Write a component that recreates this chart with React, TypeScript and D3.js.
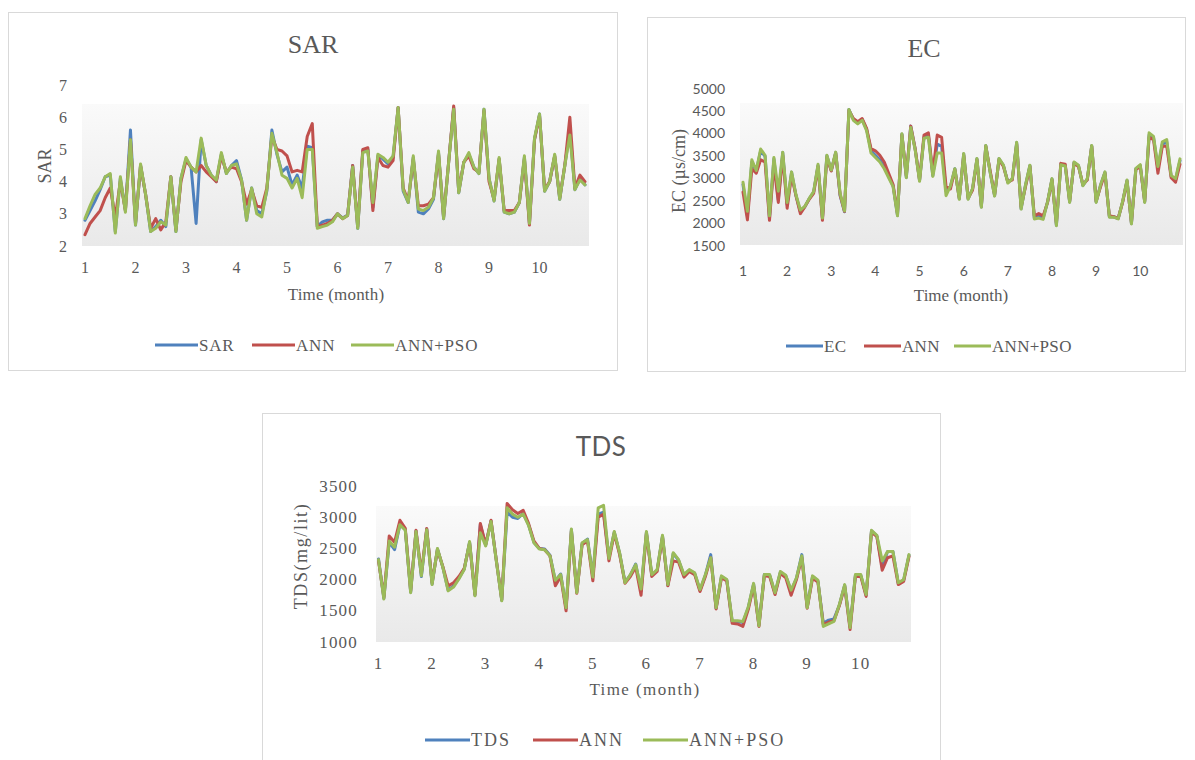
import React from 'react';
import * as d3 from 'd3';

// ---------- data ----------
const monthTicks = [1, 2, 3, 4, 5, 6, 7, 8, 9, 10];
const seriesNames = ['ANN', 'ANN+PSO'];

const sarTicks = [2, 3, 4, 5, 6, 7];
const sarActual = [
  2.8, 3.1, 3.4, 3.75, 4.15, 4.2, 2.45, 4.1, 3.1, 5.6,
  2.65, 4.5, 3.6, 2.45, 2.6, 2.8, 2.6, 4.15, 2.45, 4.1,
  4.7, 4.45, 2.7, 5.3, 4.5, 4.2, 4.0, 4.85, 4.25, 4.5,
  4.65, 4.05, 2.8, 3.8, 3.1, 3.0, 3.7, 5.6, 4.85, 4.3,
  4.45, 3.9, 4.2, 3.8, 5.1, 5.05, 2.6, 2.75, 2.8, 2.8,
  3.0, 2.87, 2.96, 4.5, 2.55, 4.95, 5.0, 3.2, 4.8, 4.7,
  4.55, 4.75, 6.3, 3.7, 3.35, 4.75, 3.05, 3.0, 3.15, 3.45,
  4.9, 2.85, 4.6, 6.3, 3.65, 4.6, 4.85, 4.45, 4.25, 6.25,
  4.1, 3.4, 4.7, 3.05, 3.0, 3.05, 3.35, 4.75, 2.7, 5.3,
  6.1, 3.7, 4.0, 4.8, 3.45, 4.5, 5.6, 3.75, 4.1, 3.9,
];
const sarANN = [
  2.35, 2.7, 2.9, 3.1, 3.5, 3.8, 2.9, 4.0, 3.1, 5.3,
  2.7, 4.5, 3.6, 2.55, 2.85, 2.5, 2.75, 4.15, 2.5, 4.0,
  4.65, 4.45, 4.3, 4.5, 4.3, 4.15, 4.0, 4.8, 4.3, 4.45,
  4.4, 4.0, 3.3, 3.75, 3.25, 3.2, 3.8, 5.4, 5.0, 4.95,
  4.8, 4.3, 4.35, 4.3, 5.4, 5.8, 2.6, 2.65, 2.7, 2.8,
  3.0, 2.85, 2.95, 4.5, 2.6, 5.0, 5.05, 3.1, 4.75, 4.5,
  4.45, 4.65, 6.3, 3.8, 3.4, 4.7, 3.25, 3.25, 3.3, 3.5,
  4.85, 2.9, 4.6, 6.35, 3.7, 4.6, 4.8, 4.4, 4.3, 6.2,
  4.0, 3.45, 4.7, 3.1, 3.1, 3.1, 3.35, 4.7, 2.65, 5.3,
  6.05, 3.75, 4.0, 4.8, 3.5, 4.5, 6.0, 3.8, 4.2, 4.0,
];
const sarPSO = [
  2.85, 3.25, 3.6, 3.8, 4.15, 4.25, 2.4, 4.15, 3.05, 5.3,
  2.65, 4.55, 3.6, 2.45, 2.55, 2.75, 2.65, 4.15, 2.45, 4.1,
  4.75, 4.45, 4.3, 5.35, 4.5, 4.2, 4.05, 4.9, 4.25, 4.5,
  4.55, 4.05, 2.8, 3.8, 3.0, 2.9, 3.75, 5.5, 4.9, 4.2,
  4.1, 3.8, 4.1, 3.5, 5.0, 5.0, 2.55, 2.6, 2.65, 2.75,
  3.0, 2.85, 2.95, 4.45, 2.55, 4.9, 4.95, 3.35, 4.85, 4.75,
  4.6, 4.8, 6.3, 3.75, 3.35, 4.8, 3.15, 3.1, 3.2, 3.5,
  4.95, 2.85, 4.6, 6.25, 3.65, 4.6, 4.9, 4.45, 4.25, 6.25,
  4.1, 3.4, 4.75, 3.05, 3.0, 3.05, 3.35, 4.8, 2.7, 5.35,
  6.1, 3.7, 4.0, 4.85, 3.45, 4.5, 5.45, 3.75, 4.05, 3.9,
];

const ecTicks = [1500, 2000, 2500, 3000, 3500, 4000, 4500, 5000];
const ecActual = [
  2850, 2150, 3350, 3150, 3600, 3480, 2100, 3420, 2500, 3560,
  2400, 3120, 2600, 2240, 2350, 2530, 2680, 3270, 2100, 3490,
  3160, 3560, 2600, 2240, 4520, 4300, 4230, 4300, 4080, 3600,
  3500, 3400, 3250, 3030, 2820, 2160, 3970, 3010, 4150, 3640,
  2940, 3900, 3950, 3050, 3750, 3700, 2700, 2800, 3200, 2530,
  3530, 2530, 2750, 3420, 2350, 3710, 3120, 2600, 3420, 3270,
  2900, 2970, 3780, 2310, 2830, 3270, 2100, 2150, 2100, 2460,
  2970, 1940, 3300, 3270, 2460, 3340, 3270, 2830, 2970, 3710,
  2460, 2830, 3120, 2130, 2130, 2090, 2460, 2940, 1980, 3200,
  3270, 2460, 3950, 3900, 3200, 3750, 3800, 3030, 2950, 3380,
];
const ecANN = [
  2680, 2060, 3200, 3100, 3400, 3350, 2050, 3300, 2450, 3500,
  2320, 3050, 2600, 2200, 2350, 2520, 2650, 3250, 2050, 3450,
  3150, 3550, 2620, 2250, 4500, 4320, 4250, 4320, 4100, 3650,
  3600, 3500, 3350, 3100, 2850, 2200, 3950, 3050, 4150, 3650,
  2950, 3950, 4000, 3100, 3950, 3900, 2800, 2750, 3180, 2550,
  3500, 2550, 2720, 3400, 2380, 3700, 3150, 2620, 3400, 3250,
  2900, 2950, 3750, 2350, 2800, 3250, 2150, 2200, 2150, 2450,
  2950, 1980, 3320, 3300, 2480, 3320, 3250, 2850, 2950, 3700,
  2480, 2800, 3100, 2150, 2130, 2100, 2450, 2920, 2000, 3180,
  3250, 2480, 3900, 3850, 3100, 3700, 3700, 3000, 2900, 3300,
];
const ecPSO = [
  2900, 2250, 3400, 3160, 3640, 3500, 2150, 3450, 2700, 3570,
  2450, 3130, 2620, 2280, 2360, 2540, 2690, 3300, 2100, 3500,
  3170, 3570, 2650, 2260, 4520, 4280, 4200, 4280, 4050, 3550,
  3450, 3350, 3200, 3000, 2800, 2150, 3980, 3000, 4120, 3620,
  2920, 3880, 3900, 3030, 3550, 3550, 2600, 2820, 3200, 2520,
  3540, 2520, 2760, 3430, 2340, 3720, 3110, 2590, 3430, 3280,
  2880, 2980, 3790, 2300, 2840, 3280, 2080, 2100, 2070, 2470,
  2980, 1930, 3290, 3260, 2450, 3350, 3280, 2820, 2980, 3720,
  2450, 2840, 3130, 2120, 2120, 2080, 2470, 2950, 1970, 3210,
  3290, 2450, 4000, 3920, 3250, 3800, 3850, 3050, 2980, 3420,
];

const tdsTicks = [1000, 1500, 2000, 2500, 3000, 3500];
const tdsActual = [
  2330, 1700, 2600, 2480, 2880, 2800, 1800, 2780, 2050, 2810,
  1930, 2490, 2200, 1830, 1900, 2020, 2170, 2600, 1750, 2880,
  2550, 2940, 2300, 1670, 3080, 3000, 2980, 3060, 2880, 2600,
  2500, 2490, 2390, 1980, 2090, 1540, 2800, 1800, 2580, 2650,
  2050, 3050, 3080, 2350, 2760, 2420, 1960, 2070, 2250, 1820,
  2760, 2070, 2150, 2700, 1910, 2420, 2310, 2070, 2150, 2100,
  1830, 2070, 2400, 1540, 2050, 1990, 1330, 1330, 1310, 1550,
  1930, 1270, 2080, 2070, 1780, 2120, 2060, 1820, 2020, 2400,
  1560, 2050, 1980, 1300, 1350, 1370, 1590, 1910, 1240, 2070,
  2070, 1750, 2780, 2700, 2200, 2450, 2450, 1940, 1990, 2390,
];
const tdsANN = [
  2300, 1720, 2700, 2600, 2950, 2820, 1820, 2790, 2100, 2820,
  1950, 2480, 2210, 1900, 1950, 2050, 2180, 2580, 1760, 2900,
  2560, 2950, 2300, 1680, 3220, 3120, 3060, 3110, 2900, 2620,
  2500, 2480, 2380, 1900, 2050, 1500, 2780, 1780, 2560, 2620,
  1980, 3000, 3050, 2300, 2740, 2400, 1940, 2050, 2200, 1750,
  2740, 2050, 2130, 2680, 1900, 2300, 2280, 2040, 2130, 2080,
  1810, 2050, 2350, 1530, 2030, 1980, 1300, 1290, 1250, 1520,
  1900, 1250, 2060, 2050, 1760, 2100, 2030, 1750, 2000, 2350,
  1540, 2020, 1960, 1280, 1320, 1340, 1580, 1890, 1200, 2050,
  2050, 1730, 2760, 2690, 2150, 2350, 2380, 1920, 1970, 2370,
];
const tdsPSO = [
  2320, 1690, 2620, 2520, 2880, 2790, 1790, 2770, 2060, 2800,
  1920, 2500, 2200, 1820, 1880, 2010, 2160, 2610, 1740, 2750,
  2540, 2930, 2290, 1660, 3150, 3050, 3000, 3050, 2870, 2590,
  2490, 2480, 2380, 1990, 2080, 1550, 2810, 1790, 2590, 2640,
  2040, 3150, 3190, 2340, 2770, 2430, 1950, 2080, 2240, 1850,
  2770, 2080, 2160, 2710, 1920, 2430, 2320, 2080, 2160, 2110,
  1840, 2080, 2350, 1550, 2060, 2000, 1340, 1340, 1330, 1560,
  1940, 1260, 2080, 2080, 1790, 2130, 2070, 1830, 2030, 2380,
  1550, 2060, 1990, 1250, 1290, 1330, 1600, 1920, 1230, 2080,
  2080, 1760, 2790, 2710, 2300, 2450, 2450, 1950, 2000, 2400,
];

// ---------- styles ----------
const COLORS = ['#4F81BD', '#C0504D', '#9BBB59'];
const SERIF = '"Liberation Serif", "Times New Roman", serif';
const SANS = 'Lato, "Open Sans", sans-serif';
const TEXT = '#595959';

type PanelCfg = {
  id: string;
  box: { x: number; y: number; w: number; h: number };
  title: { text: string; x: number; y: number; font: string; size: number; spacing: number };
  plot: { left: number; right: number; top: number; bottom: number };
  xRange: [number, number];
  yDomain: [number, number];
  yRange: [number, number];
  yTicks: number[];
  tickFont: string;
  tickSize: number;
  tickSpacing: number;
  yLabelX: number;
  xLabelY: number;
  yTitle: { text: string; x: number; y: number; spacing: number };
  xTitle: { x: number; y: number; spacing: number };
  legend: { y: number; xs: number[]; len: number; first: string; size: number; spacing: number };
  series: number[][];
};

const panels: PanelCfg[] = [
  {
    id: 'sar',
    box: { x: 8, y: 12, w: 609, h: 358 },
    title: { text: 'SAR', x: 313, y: 44, font: SERIF, size: 26, spacing: 0 },
    plot: { left: 82, right: 589, top: 104, bottom: 246 },
    xRange: [85, 585],
    yDomain: [2, 7],
    yRange: [246, 85],
    yTicks: sarTicks,
    tickFont: SERIF,
    tickSize: 16,
    tickSpacing: 0,
    yLabelX: 67,
    xLabelY: 267,
    yTitle: { text: 'SAR', x: 45, y: 166, spacing: 0 },
    xTitle: { x: 336, y: 294, spacing: 0.2 },
    legend: { y: 345, xs: [155, 252, 351], len: 43, first: 'SAR', size: 17, spacing: 0.8 },
    series: [sarActual, sarANN, sarPSO],
  },
  {
    id: 'ec',
    box: { x: 647, y: 17, w: 538, h: 354 },
    title: { text: 'EC', x: 924, y: 48, font: SERIF, size: 26, spacing: 0 },
    plot: { left: 740, right: 1183, top: 103, bottom: 245 },
    xRange: [743, 1180],
    yDomain: [1500, 5000],
    yRange: [245, 88],
    yTicks: ecTicks,
    tickFont: SANS,
    tickSize: 14,
    tickSpacing: 0,
    yLabelX: 725,
    xLabelY: 270,
    yTitle: { text: 'EC (µs/cm)', x: 679, y: 171, spacing: 0 },
    xTitle: { x: 961, y: 295, spacing: 0 },
    legend: { y: 346, xs: [786, 864, 954], len: 37, first: 'EC', size: 17, spacing: 0.3 },
    series: [ecActual, ecANN, ecPSO],
  },
  {
    id: 'tds',
    box: { x: 262, y: 413, w: 678, h: 360 },
    title: { text: 'TDS', x: 601, y: 446, font: SANS, size: 26, spacing: 0.5 },
    plot: { left: 376, right: 911, top: 506, bottom: 642 },
    xRange: [378.5, 909],
    yDomain: [1000, 3500],
    yRange: [642, 486],
    yTicks: tdsTicks,
    tickFont: SERIF,
    tickSize: 17,
    tickSpacing: 1.2,
    yLabelX: 358,
    xLabelY: 663,
    yTitle: { text: 'TDS(mg/lit)', x: 301, y: 556, spacing: 1.6 },
    xTitle: { x: 645, y: 689, spacing: 1.4 },
    legend: { y: 740, xs: [425, 533, 643], len: 45, first: 'TDS', size: 18, spacing: 2 },
    series: [tdsActual, tdsANN, tdsPSO],
  },
];

function Panel({ cfg }: { cfg: PanelCfg }) {
  const n = cfg.series[0].length;
  const x = d3.scaleLinear().domain([1, 1 + (n - 1) / 10]).range(cfg.xRange);
  const y = d3.scaleLinear().domain(cfg.yDomain).range(cfg.yRange);
  const line = d3
    .line<number>()
    .x((_, i) => x(1 + i / 10))
    .y((d) => y(d));
  const gid = `grad-${cfg.id}`;
  const names = [cfg.legend.first, ...seriesNames];
  return (
    <g>
      <defs>
        <linearGradient id={gid} x1="0" y1="0" x2="0" y2="1">
          <stop offset="0%" stopColor="#fafafa" />
          <stop offset="100%" stopColor="#e9e9e9" />
        </linearGradient>
      </defs>
      <rect
        x={cfg.box.x + 0.5}
        y={cfg.box.y + 0.5}
        width={cfg.box.w}
        height={cfg.box.h}
        fill="#ffffff"
        stroke="#d9d9d9"
        strokeWidth={1}
      />
      <rect
        x={cfg.plot.left}
        y={cfg.plot.top}
        width={cfg.plot.right - cfg.plot.left}
        height={cfg.plot.bottom - cfg.plot.top}
        fill={`url(#${gid})`}
      />
      <text
        x={cfg.title.x}
        y={cfg.title.y}
        textAnchor="middle"
        dominantBaseline="central"
        fontFamily={cfg.title.font}
        fontSize={cfg.title.size}
        letterSpacing={cfg.title.spacing}
        fill={TEXT}
      >
        {cfg.title.text}
      </text>
      {cfg.yTicks.map((t) => (
        <text
          key={`y${t}`}
          x={cfg.yLabelX}
          y={y(t)}
          textAnchor="end"
          dominantBaseline="central"
          fontFamily={cfg.tickFont}
          fontSize={cfg.tickSize}
          letterSpacing={cfg.tickSpacing}
          fill={TEXT}
        >
          {t}
        </text>
      ))}
      {monthTicks.map((t) => (
        <text
          key={`x${t}`}
          x={x(t)}
          y={cfg.xLabelY}
          textAnchor="middle"
          dominantBaseline="central"
          fontFamily={cfg.tickFont}
          fontSize={cfg.tickSize}
          letterSpacing={cfg.tickSpacing}
          fill={TEXT}
        >
          {t}
        </text>
      ))}
      <text
        transform={`translate(${cfg.yTitle.x},${cfg.yTitle.y}) rotate(-90)`}
        textAnchor="middle"
        dominantBaseline="central"
        fontFamily={SERIF}
        fontSize={18}
        letterSpacing={cfg.yTitle.spacing}
        fill={TEXT}
      >
        {cfg.yTitle.text}
      </text>
      <text
        x={cfg.xTitle.x}
        y={cfg.xTitle.y}
        textAnchor="middle"
        dominantBaseline="central"
        fontFamily={SERIF}
        fontSize={17}
        letterSpacing={cfg.xTitle.spacing}
        fill={TEXT}
      >
        Time (month)
      </text>
      {cfg.series.map((s, k) => (
        <path
          key={`s${k}`}
          d={line(s) || ''}
          fill="none"
          stroke={COLORS[k]}
          strokeWidth={3}
          strokeLinejoin="round"
          strokeLinecap="round"
        />
      ))}
      {names.map((nm, k) => (
        <g key={`l${k}`}>
          <line
            x1={cfg.legend.xs[k]}
            x2={cfg.legend.xs[k] + cfg.legend.len}
            y1={cfg.legend.y}
            y2={cfg.legend.y}
            stroke={COLORS[k]}
            strokeWidth={3}
          />
          <text
            x={cfg.legend.xs[k] + cfg.legend.len + 1}
            y={cfg.legend.y}
            dominantBaseline="central"
            fontFamily={SERIF}
            fontSize={cfg.legend.size}
            letterSpacing={cfg.legend.spacing}
            fill={TEXT}
          >
            {nm}
          </text>
        </g>
      ))}
    </g>
  );
}

export default function App() {
  return (
    <svg
      width={1195}
      height={760}
      viewBox="0 0 1195 760"
      style={{ position: 'absolute', left: 0, top: 0, background: '#ffffff' }}
    >
      <rect x={0} y={0} width={1195} height={760} fill="#ffffff" />
      {panels.map((p) => (
        <Panel key={p.id} cfg={p} />
      ))}
    </svg>
  );
}
